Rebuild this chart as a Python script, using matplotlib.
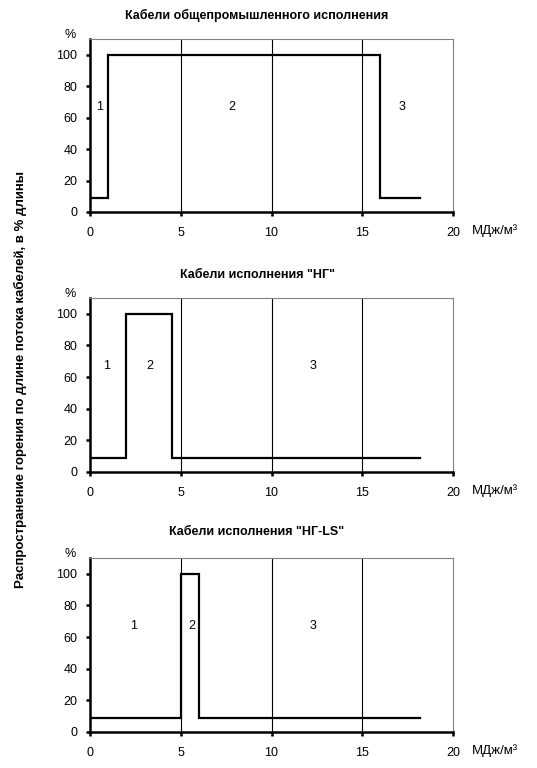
import matplotlib
matplotlib.use("Agg")
import matplotlib.pyplot as plt

plt.rcParams['font.family'] = ['Liberation Sans', 'DejaVu Sans']

titles = ["Кабели общепромышленного исполнения",
          "Кабели исполнения \"НГ\"",
          "Кабели исполнения \"НГ-LS\""]
step_x = [[0, 1, 16, 18.2],
          [0, 2, 4.5, 18.2],
          [0, 5, 6, 18.2]]
step_y = [[9, 100, 9, 9],
          [9, 100, 9, 9],
          [9, 100, 9, 9]]
zone_labels = ["1", "2", "3"]
zone_x = [[0.55, 7.8, 17.2],
          [0.9, 3.3, 12.3],
          [2.4, 5.6, 12.3]]
zone_y = 67
x_ticks = [0, 5, 10, 15, 20]
y_ticks = [0, 20, 40, 60, 80, 100]
grid_x = [5, 10, 15]
unit_label = "МДж/м³"
y_label = "Распространение горения по длине потока кабелей, в % длины"

W, H = 537, 768
fig = plt.figure(figsize=(W / 100, H / 100), dpi=100)

ax_px = [(39, 212), (298, 472), (558, 732)]
title_y = [15, 275, 532]
left_px, right_px = 90, 453

for i in range(3):
    top, bot = ax_px[i]
    ax = fig.add_axes([left_px / W, 1 - bot / H, (right_px - left_px) / W, (bot - top) / H])
    ax.set_xlim(0, 20)
    ax.set_ylim(0, 110)
    for gx in grid_x:
        ax.axvline(gx, color='black', lw=0.8, zorder=1)
    ax.plot(step_x[i], step_y[i], drawstyle='steps-post', color='black', lw=1.6,
            solid_joinstyle='miter', zorder=3)
    for lab, zx in zip(zone_labels, zone_x[i]):
        ax.text(zx, zone_y, lab, ha='center', va='center', fontsize=9)
    ax.set_xticks(x_ticks)
    ax.set_yticks(y_ticks)
    ax.tick_params(axis='both', direction='out', length=3, width=1.8, labelsize=9,
                   color='black')
    ax.tick_params(axis='x', pad=8)
    ax.tick_params(axis='y', pad=6)
    ax.spines['left'].set_linewidth(1.8)
    ax.spines['bottom'].set_linewidth(1.8)
    ax.spines['top'].set_color('#808080')
    ax.spines['right'].set_color('#808080')
    ax.spines['top'].set_linewidth(0.8)
    ax.spines['right'].set_linewidth(0.8)
    fig.text(70 / W, 1 - (top - 4) / H, "%", ha='center', va='center', fontsize=9)
    fig.text(472 / W, 1 - (bot + 19) / H, unit_label, ha='left', va='center', fontsize=9.5)
    fig.text(257 / W, 1 - title_y[i] / H, titles[i], ha='center', va='center',
             fontsize=9, fontweight='bold')

fig.text(20 / W, 1 - 379 / H, y_label, rotation=90, ha='center', va='center',
         fontsize=9.5, fontweight='bold')

fig.savefig("out.png", dpi=100)
